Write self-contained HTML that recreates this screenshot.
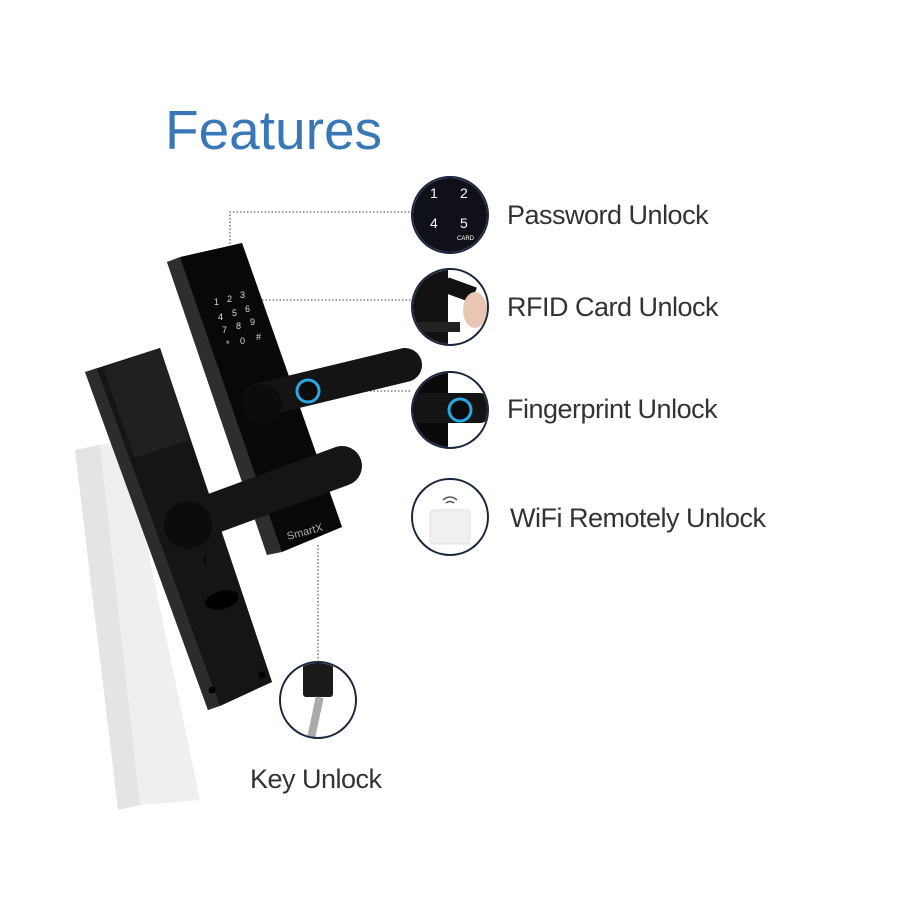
<!DOCTYPE html>
<html><head><style>
body{margin:0;width:900px;height:900px;background:#fff;overflow:hidden;position:relative;font-family:"Liberation Sans",sans-serif}
.t{position:absolute;color:#333;font-size:27px;letter-spacing:-0.5px}
</style></head><body>
<svg width="900" height="900" style="position:absolute;left:0;top:0">
<defs>
<clipPath id="c1"><circle cx="450" cy="215" r="37"/></clipPath>
<clipPath id="c2"><circle cx="450" cy="307" r="37"/></clipPath>
<clipPath id="c3"><circle cx="450" cy="410" r="37"/></clipPath>
<clipPath id="c5"><circle cx="318" cy="700" r="37"/></clipPath>
</defs>
<!-- shadow -->
<polygon points="75,450 100,445 140,805 118,810" fill="#e4e4e4"/>
<polygon points="100,445 125,440 200,800 140,805" fill="#efefef"/>
<!-- dotted lines -->
<g stroke="#666" stroke-width="1.3" stroke-dasharray="1.5,2" fill="none">
<polyline points="230,300 230,212 412,212"/>
<line x1="262" y1="300" x2="412" y2="300"/>
<line x1="300" y1="391" x2="412" y2="391"/>
<line x1="318" y1="545" x2="318" y2="663"/>
</g>
<!-- front lock -->
<polygon points="167,262 242,243 342,527 267,555" fill="#1c1c1c"/>
<polygon points="167,262 180,257 282,552 267,555" fill="#2e2e2e"/>
<polygon points="180,257 242,243 342,527 282,552" fill="#080808"/>
<g fill="#ddd" font-size="9">
<text x="214" y="305">1</text><text x="227" y="302">2</text><text x="240" y="298">3</text>
<text x="218" y="320">4</text><text x="232" y="316">5</text><text x="245" y="312">6</text>
<text x="222" y="333">7</text><text x="236" y="329">8</text><text x="250" y="325">9</text>
<text x="226" y="347">*</text><text x="240" y="344">0</text><text x="256" y="340">#</text>
</g>
<text x="288" y="540" fill="#aaa" font-size="11" transform="rotate(-15 288 540)">SmartX</text>
<!-- back plate -->
<polygon points="85,372 160,348 272,682 208,710" fill="#1e1e1e"/>
<polygon points="85,372 97,369 220,706 208,710" fill="#2c2c2c"/>
<polygon points="97,369 160,348 272,682 220,706" fill="#151515"/>
<polygon points="103,368 160,348 190,440 135,458" fill="#202020"/>
<ellipse cx="222" cy="600" rx="17" ry="9" fill="#000" transform="rotate(-15 222 600)"/>
<text x="203" y="565" fill="#000" font-size="14">t</text>
<circle cx="212" cy="690" r="3.5" fill="#000"/>
<circle cx="262" cy="675" r="3.5" fill="#000"/>
<!-- handles -->
<line x1="260" y1="400" x2="405" y2="365" stroke="#141414" stroke-width="34" stroke-linecap="round"/>
<circle cx="262" cy="404" r="20" fill="#0c0c0c"/>
<circle cx="308" cy="391" r="11" fill="#0c0c0c" stroke="#2aa7e0" stroke-width="3"/>
<line x1="190" y1="522" x2="342" y2="466" stroke="#151515" stroke-width="40" stroke-linecap="round"/>
<circle cx="188" cy="525" r="24" fill="#0c0c0c"/>
<!-- circles -->
<g clip-path="url(#c1)"><rect x="410" y="175" width="80" height="80" fill="#101018"/>
<g fill="#fff" font-size="14"><text x="430" y="198">1</text><text x="460" y="198">2</text><text x="430" y="228">4</text><text x="460" y="228">5</text></g>
<text x="457" y="240" fill="#fff" font-size="6">CARD</text></g>
<circle cx="450" cy="215" r="38" fill="none" stroke="#1a2540" stroke-width="2"/>
<g clip-path="url(#c2)"><rect x="410" y="268" width="80" height="80" fill="#fff"/>
<rect x="410" y="268" width="38" height="80" fill="#111"/>
<rect x="445" y="282" width="30" height="16" fill="#111" transform="rotate(20 460 290)"/>
<ellipse cx="475" cy="310" rx="12" ry="18" fill="#e9c6b4"/>
<rect x="410" y="322" width="50" height="10" fill="#222"/></g>
<circle cx="450" cy="307" r="38" fill="none" stroke="#1a2540" stroke-width="2"/>
<g clip-path="url(#c3)"><rect x="410" y="370" width="80" height="80" fill="#fff"/>
<rect x="410" y="370" width="38" height="80" fill="#0a0a0a"/>
<rect x="410" y="393" width="80" height="30" rx="10" fill="#141414"/>
<circle cx="460" cy="410" r="11" fill="#0a0a0a" stroke="#2aa7e0" stroke-width="3"/></g>
<circle cx="450" cy="410" r="38" fill="none" stroke="#1a2540" stroke-width="2"/>
<circle cx="450" cy="517" r="38" fill="#fff" stroke="#1a2540" stroke-width="2"/>
<rect x="430" y="510" width="40" height="34" rx="3" fill="#f0f0f0" stroke="#e2e2e2"/>
<g fill="none" stroke="#555" stroke-width="1.5"><path d="M443 500 q7 -6 14 0"/><path d="M446 503 q4 -3 8 0"/></g>
<g clip-path="url(#c5)"><rect x="280" y="663" width="76" height="76" fill="#fff"/>
<rect x="303" y="662" width="30" height="35" rx="3" fill="#1a1a1a"/>
<rect x="313" y="697" width="8" height="40" fill="#aaa" transform="rotate(12 317 710)"/></g>
<circle cx="318" cy="700" r="38" fill="none" stroke="#1a2540" stroke-width="2"/>
</svg>
<div style="position:absolute;left:165px;top:98px;font-size:55px;color:#3a77b7">Features</div>
<div class="t" style="left:507px;top:200px">Password Unlock</div>
<div class="t" style="left:507px;top:292px">RFID Card Unlock</div>
<div class="t" style="left:507px;top:394px">Fingerprint Unlock</div>
<div class="t" style="left:510px;top:503px">WiFi Remotely Unlock</div>
<div class="t" style="left:250px;top:764px">Key Unlock</div>
</body></html>
